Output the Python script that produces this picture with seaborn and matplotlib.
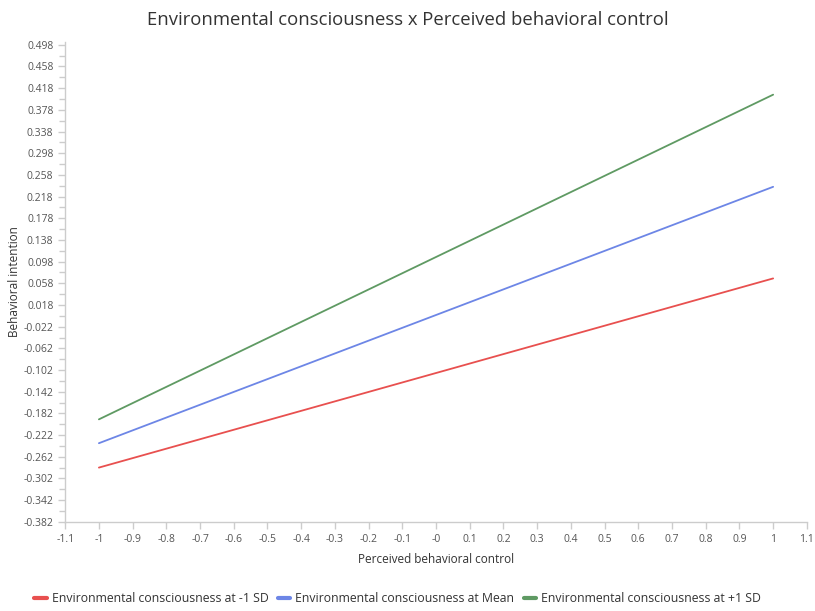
import numpy as np
import pandas as pd
import matplotlib
matplotlib.use("Agg")
import matplotlib.pyplot as plt
import seaborn as sns
from matplotlib.ticker import FixedLocator

# data
pbc = [-1, 1]
low_sd = [-0.282, 0.067]
mean = [-0.237, 0.236]
high_sd = [-0.193, 0.406]
groups = ["Environmental consciousness at -1 SD",
          "Environmental consciousness at Mean",
          "Environmental consciousness at +1 SD"]
colors = ["#e8504f", "#6d86e6", "#5f9a63"]

x_ticks = np.round(np.arange(-1.1, 1.1001, 0.1), 1)
y_ticks = np.round(np.arange(-0.382, 0.4981, 0.04), 3)

df = pd.concat([
    pd.DataFrame({"x": pbc, "y": vals, "group": g})
    for vals, g in zip([low_sd, mean, high_sd], groups)
])

sns.set_style("white")
plt.rcParams["font.family"] = ["Open Sans", "DejaVu Sans"]

fig = plt.figure(figsize=(8.15, 6.11), dpi=100)
ax = fig.add_axes([0.080, 0.146, 0.910, 0.786])

sns.lineplot(data=df, x="x", y="y", hue="group", palette=colors,
             linewidth=1.3, ax=ax, legend=False)

ax.set_xlim(-1.1, 1.1)
ax.set_ylim(-0.382, 0.504)
ax.xaxis.set_major_locator(FixedLocator(x_ticks))
ax.set_xticklabels(["-0" if abs(v) < 1e-9 else f"{v:g}" for v in x_ticks])
ax.yaxis.set_major_locator(FixedLocator(y_ticks))
ax.set_yticklabels([f"{v:.3f}" for v in y_ticks])
ax.yaxis.set_minor_locator(FixedLocator(np.arange(-0.362, 0.52, 0.04)))

axis_col = "#cccccc"
for s in ["top", "right"]:
    ax.spines[s].set_visible(False)
for s in ["left", "bottom"]:
    ax.spines[s].set_color(axis_col)
    ax.spines[s].set_linewidth(1)
ax.tick_params(axis="both", which="major", length=5, width=1, color=axis_col,
               labelsize=7.5, labelcolor="#555555", direction="out",
               bottom=True, left=True)
ax.tick_params(axis="y", which="minor", length=4, width=1, color=axis_col, left=True)

ax.set_xlabel("Perceived behavioral control", fontsize=8.5, color="#333333", labelpad=6)
ax.set_ylabel("Behavioral intention", fontsize=8.5, color="#333333", labelpad=2)
fig.suptitle("Environmental consciousness x Perceived behavioral control",
             fontsize=13.3, color="#333333", y=0.982)

handles = [plt.Line2D([0], [0], color=c, lw=3) for c in colors]
fig.legend(handles, groups, loc="lower center", ncol=3, frameon=False,
           fontsize=8.8, handlelength=1.0, handletextpad=0.4, columnspacing=0.8,
           bbox_to_anchor=(0.488, -0.008), labelcolor="#333333")

fig.savefig("out.png", dpi=100)
